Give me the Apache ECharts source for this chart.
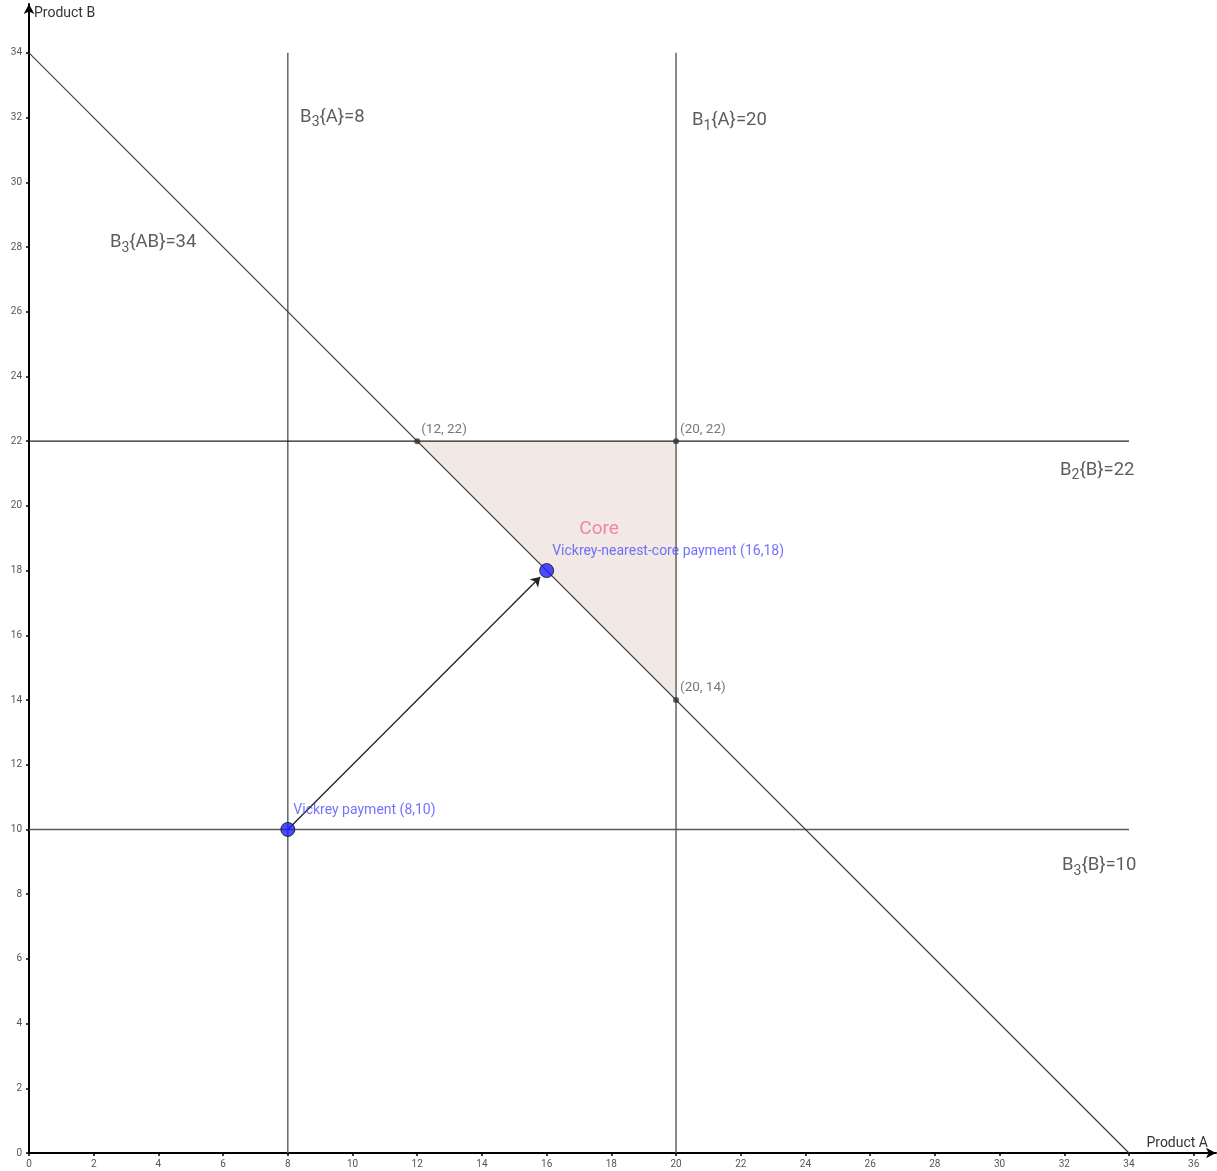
<!DOCTYPE html>
<html><head><meta charset="utf-8">
<script src="https://cdn.jsdelivr.net/npm/echarts@6/dist/echarts.min.js"></script>
<style>html,body{margin:0;padding:0;background:#fff}#c{width:1217px;height:1171px}</style>
</head><body><div id="c"></div>
<script>
// ---- data ----
const xMax = 36.69, yMax = 35.51;
const bidA = [8, 20];            // vertical constraint lines x = value
const bidB = [22, 10];           // horizontal constraint lines y = value
const bidAB = 34;                // x + y = 34
const lineSpan = [0, 34];
const corePolygon = [[12,22],[20,22],[20,14]];
const cornerPoints = [[12,22],[20,22],[20,14]];
const cornerLabels = ['(12, 22)','(20, 22)','(20, 14)'];
const vickrey = [8,10];
const vnc = [16,18];
const arrowTip = [15.8,17.8];
const vickreyLabel = 'Vickrey payment (8,10)';
const vncLabel = 'Vickrey-nearest-core payment (16,18)';
const annotations = [
  {pos:[8.38,32.02], text:'B{s|3}{A}=8'},
  {pos:[20.49,31.9], text:'B{s|1}{A}=20'},
  {pos:[2.5,28.13], text:'B{s|3}{AB}=34'},
  {pos:[31.87,21.11], text:'B{s|2}{B}=22'},
  {pos:[31.93,8.9], text:'B{s|3}{B}=10'}
];
const coreLabel = {pos:[17.62,19.29], text:'Core'};

// ---- chart ----
const FONT = 'Roboto';
const chart = echarts.init(document.getElementById('c'));
const series = [];
bidA.forEach(x => series.push({type:'line', data:[[x,lineSpan[0]],[x,lineSpan[1]]], symbol:'none', silent:true,
  lineStyle:{color:'#5a5a5a', width:1.4}, z:2}));
bidB.forEach(y => series.push({type:'line', data:[[lineSpan[0],y],[lineSpan[1],y]], symbol:'none', silent:true,
  lineStyle:{color:y===22?'#222':'#5a5a5a', width:1.4}, z:2}));
series.push({type:'line', data:[[0,bidAB],[bidAB,0]], symbol:'none', silent:true, lineStyle:{color:'#3a3a3a', width:1.1}, z:2});
series.push({type:'custom', z:1, silent:true, data:[0],
  renderItem:(params, api) => ({type:'polygon', shape:{points:corePolygon.map(p=>api.coord(p))},
    style:{fill:'#f2e9e5', stroke:null}})});
series.push({type:'lines', coordinateSystem:'cartesian2d', z:3, silent:true,
  symbol:['none','arrow'], symbolSize:[0,9],
  lineStyle:{color:'#222', width:1.3, opacity:1},
  data:[{coords:[vickrey, arrowTip]}]});
series.push({type:'scatter', z:4, data:cornerPoints.map((p,i)=>({value:p, label:{formatter:cornerLabels[i]}})),
  symbolSize:6, itemStyle:{color:'#333'},
  label:{show:true, position:'right', distance:5, offset:[-4,-12], color:'#555', fontSize:13.5, fontFamily:FONT}});
series.push({type:'scatter', z:5, data:[{value:vickrey, label:{formatter:vickreyLabel}},{value:vnc, label:{formatter:vncLabel}}],
  symbolSize:14, itemStyle:{color:'#1f1fff', borderColor:'#111', borderWidth:1},
  label:{show:true, position:'right', distance:5, offset:[-7,-19], color:'#4f4fff', fontSize:14, fontFamily:FONT}});
series.push({type:'scatter', z:6, silent:true, symbolSize:0,
  data:annotations.map(a=>({value:a.pos, label:{formatter:a.text}})),
  label:{show:true, position:'right', distance:0, color:'#333', fontSize:18.5, fontFamily:FONT,
    rich:{s:{fontSize:14, color:'#333', fontFamily:FONT, verticalAlign:'bottom', padding:[12,0,0,0]}}}});
series.push({type:'scatter', z:6, silent:true, symbolSize:0,
  data:[{value:coreLabel.pos, label:{formatter:coreLabel.text}}],
  label:{show:true, position:'inside', color:'#f06b96', fontSize:19, fontFamily:FONT}});

const axisCommon = {
  type:'value', min:0, interval:2,
  axisLine:{show:true, onZero:true, symbol:['none','arrow'], symbolSize:[8,10], symbolOffset:[0,0], lineStyle:{color:'#000', width:2}},
  axisTick:{show:true, length:3, lineStyle:{color:'#000', width:1.5}},
  splitLine:{show:false},
  axisLabel:{color:'#555', fontSize:10, fontFamily:FONT},
  nameMoveOverlap:false
};
chart.setOption({
  animation:false,
  grid:{left:29, top:4, width:1187, height:1149, containLabel:false, outerBoundsMode:'none'},
  xAxis:Object.assign({}, axisCommon, {max:xMax, name:'Product A', nameLocation:'end', nameGap:-8,
    axisLabel:Object.assign({}, axisCommon.axisLabel, {margin:6, showMaxLabel:false}),
    nameTextStyle:{align:'right', verticalAlign:'bottom', padding:[0,0,3,0], color:'#333', fontSize:14, fontFamily:FONT}}),
  yAxis:Object.assign({}, axisCommon, {max:yMax, name:'Product B', nameLocation:'end', nameGap:-9,
    axisLabel:Object.assign({}, axisCommon.axisLabel, {margin:7, showMaxLabel:false}),
    nameTextStyle:{align:'left', verticalAlign:'middle', padding:[0,0,0,5], color:'#333', fontSize:14, fontFamily:FONT}}),
  series
});
</script></body></html>
